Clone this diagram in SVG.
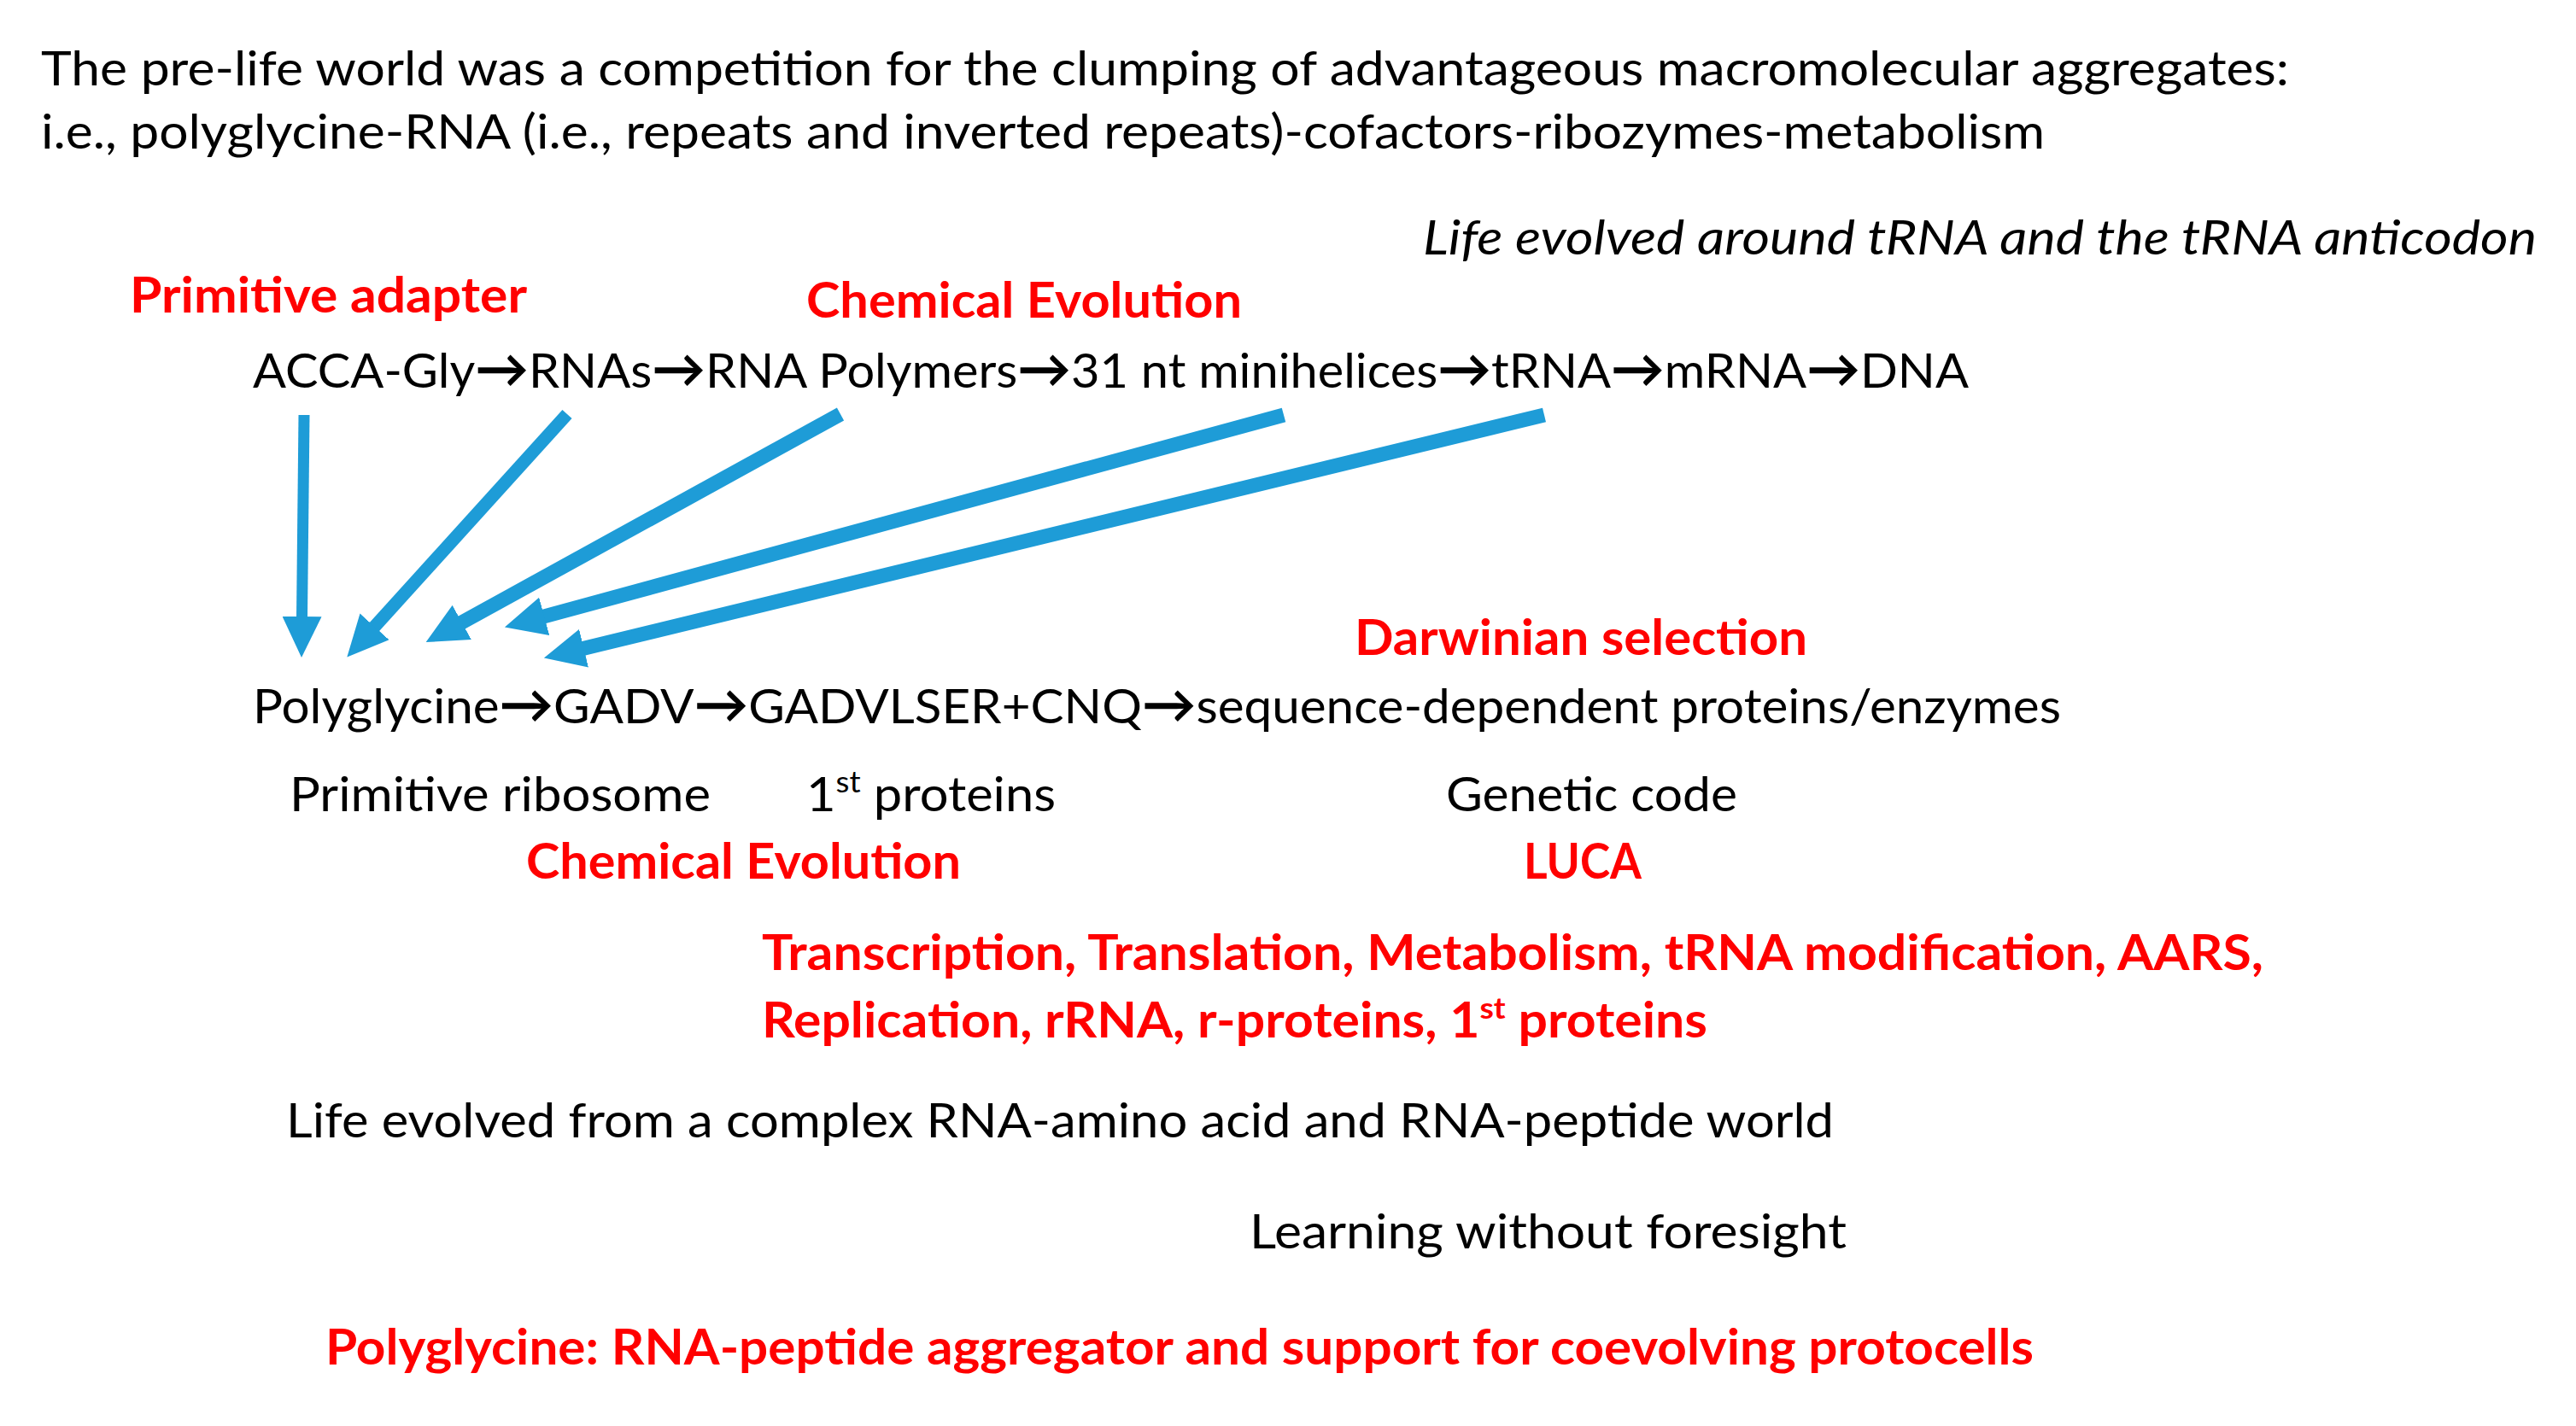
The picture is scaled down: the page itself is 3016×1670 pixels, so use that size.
<svg xmlns="http://www.w3.org/2000/svg" width="3016" height="1670" viewBox="0 0 3016 1670">
  <style>
    text { font-family: Lato, "Open Sans", "DejaVu Sans", sans-serif; font-size: 57px; fill: #000000; }
    .red { fill: #FF0000; font-weight: bold; }
    .it { font-style: italic; }
    .sup { font-size: 35px; }
    .arr { font-weight: bold; font-size: 62px; }
    .conn { stroke: #1E9CD7; fill: none; stroke-linecap: butt; marker-end: url(#head); }
  </style>
  <defs>
    <marker id="head" viewBox="0 0 48 46" refX="2" refY="23" markerWidth="48" markerHeight="46" markerUnits="userSpaceOnUse" orient="auto">
      <path d="M0,0 L48,23 L0,46 Z" fill="#1E9CD7"/>
    </marker>
  </defs>
  <rect width="3016" height="1670" fill="#FFFFFF"/>

  <g id="title">
    <text x="48" y="100" textLength="2632" lengthAdjust="spacingAndGlyphs">The pre-life world was a competition for the clumping of advantageous macromolecular aggregates:</text>
    <text x="48" y="174" textLength="2346" lengthAdjust="spacingAndGlyphs">i.e., polyglycine-RNA (i.e., repeats and inverted repeats)-cofactors-ribozymes-metabolism</text>
  </g>
  <g id="life-around-trna">
    <text class="it" x="1666" y="298" textLength="1304" lengthAdjust="spacingAndGlyphs">Life evolved around tRNA and the tRNA anticodon</text>
  </g>
  <g id="primitive-adapter">
    <text class="red" x="152" y="366" textLength="465" lengthAdjust="spacingAndGlyphs">Primitive adapter</text>
  </g>
  <g id="chemical-evolution-top">
    <text class="red" x="944" y="372" textLength="510" lengthAdjust="spacingAndGlyphs">Chemical Evolution</text>
  </g>
  <g id="rna-chain">
    <text x="296" y="454" textLength="2009" lengthAdjust="spacingAndGlyphs">ACCA-Gly<tspan class="arr">→</tspan>RNAs<tspan class="arr">→</tspan>RNA Polymers<tspan class="arr">→</tspan>31 nt minihelices<tspan class="arr">→</tspan>tRNA<tspan class="arr">→</tspan>mRNA<tspan class="arr">→</tspan>DNA</text>
  </g>
  <g id="darwinian-selection">
    <text class="red" x="1586" y="767" textLength="530" lengthAdjust="spacingAndGlyphs">Darwinian selection</text>
  </g>
  <g id="protein-chain">
    <text x="296" y="847" textLength="2117" lengthAdjust="spacingAndGlyphs">Polyglycine<tspan class="arr">→</tspan>GADV<tspan class="arr">→</tspan>GADVLSER+CNQ<tspan class="arr">→</tspan>sequence-dependent proteins/enzymes</text>
  </g>
  <g id="primitive-ribosome">
    <text x="339" y="950" textLength="493" lengthAdjust="spacingAndGlyphs">Primitive ribosome</text>
  </g>
  <g id="first-proteins">
    <text x="944" y="950" textLength="292" lengthAdjust="spacingAndGlyphs">1<tspan class="sup" dy="-22">st</tspan><tspan dy="22"> proteins</tspan></text>
  </g>
  <g id="genetic-code">
    <text x="1693" y="950" textLength="341" lengthAdjust="spacingAndGlyphs">Genetic code</text>
  </g>
  <g id="chemical-evolution-bottom">
    <text class="red" x="616" y="1029" textLength="509" lengthAdjust="spacingAndGlyphs">Chemical Evolution</text>
  </g>
  <g id="luca">
    <text class="red" x="1784" y="1029" textLength="138" lengthAdjust="spacingAndGlyphs">LUCA</text>
  </g>
  <g id="luca-features">
    <text class="red" x="892" y="1136" textLength="1758" lengthAdjust="spacingAndGlyphs">Transcription, Translation, Metabolism, tRNA modification, AARS,</text>
    <text class="red" x="892" y="1215" textLength="1107" lengthAdjust="spacingAndGlyphs">Replication, rRNA, r-proteins, 1<tspan class="sup" dy="-22">st</tspan><tspan dy="22"> proteins</tspan></text>
  </g>
  <g id="complex-world">
    <text x="335" y="1332" textLength="1812" lengthAdjust="spacingAndGlyphs">Life evolved from a complex RNA-amino acid and RNA-peptide world</text>
  </g>
  <g id="learning">
    <text x="1463" y="1462" textLength="699" lengthAdjust="spacingAndGlyphs">Learning without foresight</text>
  </g>
  <g id="polyglycine-support">
    <text class="red" x="381" y="1598" textLength="2000" lengthAdjust="spacingAndGlyphs">Polyglycine: RNA-peptide aggregator and support for coevolving protocells</text>
  </g>

  <g id="connectors">
    <line class="conn" x1="356" y1="486" x2="353.5" y2="724" stroke-width="13"/>
    <line class="conn" x1="664" y1="485" x2="437.2" y2="735.4" stroke-width="15"/>
    <line class="conn" x1="984" y1="485" x2="539" y2="729.9" stroke-width="17"/>
    <line class="conn" x1="1503" y1="486" x2="635.3" y2="722.4" stroke-width="17"/>
    <line class="conn" x1="1808" y1="486" x2="681.6" y2="759.7" stroke-width="17"/>
  </g>
</svg>
